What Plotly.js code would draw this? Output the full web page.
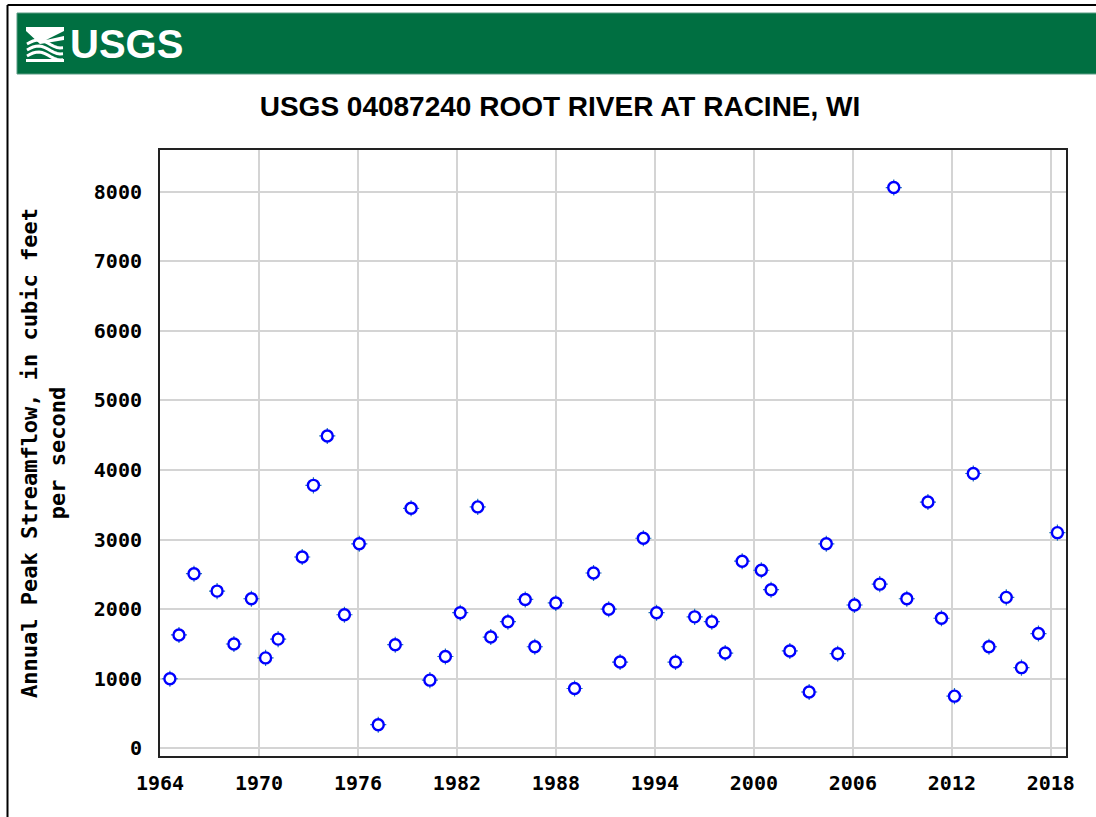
<!DOCTYPE html>
<html>
<head>
<meta charset="utf-8">
<script src="https://cdn.plot.ly/plotly-3.0.1.min.js"></script>
<style>
  html, body { margin: 0; padding: 0; background: #ffffff; }
  #chart { width: 1096px; height: 817px; }
</style>
</head>
<body>
<div id="chart"></div>
<script>
// ---- Data ----
const chartTitle = 'USGS 04087240 ROOT RIVER AT RACINE, WI';
const yAxisTitle = 'Annual Peak Streamflow, in cubic feet<br>per second';
const xTickYears = [1964, 1970, 1976, 1982, 1988, 1994, 2000, 2006, 2012, 2018];
const yTickValues = [0, 1000, 2000, 3000, 4000, 5000, 6000, 7000, 8000];

// Date of annual peak, as decimal year
const peakDateYear = [
  1964.60, 1965.15, 1966.06, 1967.46, 1968.48, 1969.54, 1970.40, 1971.16, 1972.62, 1973.30,
  1974.14, 1975.18, 1976.08, 1977.23, 1978.26, 1979.22, 1980.36, 1981.30, 1982.20, 1983.26,
  1984.05, 1985.09, 1986.14, 1986.72, 1987.99, 1989.13, 1990.28, 1991.20, 1991.89, 1993.30,
  1994.10, 1995.25, 1996.41, 1997.45, 1998.26, 1999.29, 2000.45, 2001.04, 2002.18, 2003.35,
  2004.39, 2005.08, 2006.10, 2007.63, 2008.48, 2009.27, 2010.55, 2011.37, 2012.16, 2013.30,
  2014.25, 2015.30, 2016.22, 2017.25, 2018.40
];
// Annual peak streamflow, cubic feet per second
const peakFlowCfs = [
  1000, 1630, 2510, 2260, 1500, 2150, 1300, 1570, 2750, 3780,
  4490, 1920, 2940, 340, 1490, 3450, 980, 1320, 1950, 3470,
  1600, 1820, 2140, 1460, 2090, 860, 2520, 2000, 1240, 3020,
  1950, 1240, 1890, 1820, 1370, 2690, 2560, 2280, 1400, 810,
  2940, 1360, 2060, 2360, 8060, 2150, 3540, 1870, 750, 3950,
  1460, 2170, 1160, 1650, 3100
];

// ---- Layout geometry (pixels) ----
const W = 1096, H = 817;
const L = 160, R = 1066, T = 150, B = 756;
const PW = R - L, PH = B - T;
const px = x => (x - L) / PW;      // pixel x -> paper x
const py = y => (B - y) / PH;      // pixel y -> paper y

const green = '#006f41';
const blue = '#0000ff';
const monoFont = 'DejaVu Sans Mono, Liberation Mono, monospace';
const titleFont = 'Liberation Sans, Arial, sans-serif';

// Wave-logo path built in pixel space then mapped to paper
function wavePath(y0, amp) {
  const pts = [];
  for (let i = 0; i <= 12; i++) {
    const x = 27 + i * (36 / 12);
    const y = y0 + amp * Math.sin(i / 12 * Math.PI * 1.6);
    pts.push((i === 0 ? 'M' : 'L') + px(x).toFixed(5) + ',' + py(y).toFixed(5));
  }
  return pts.join(' ');
}

const shapes = [
  // outer frame lines
  { type: 'line', xref: 'paper', yref: 'paper', x0: px(7.5), x1: px(W + 2), y0: py(5), y1: py(5),
    line: { color: '#000000', width: 2 } },
  { type: 'line', xref: 'paper', yref: 'paper', x0: px(7.5), x1: px(7.5), y0: py(5), y1: py(H + 2),
    line: { color: '#000000', width: 2 } },
  // green banner
  { type: 'rect', xref: 'paper', yref: 'paper', x0: px(17), x1: px(W + 2), y0: py(74), y1: py(13),
    fillcolor: green, line: { color: '#5a9c84', width: 1 }, layer: 'above' },
  // logo icon: top chevron band
  { type: 'path', xref: 'paper', yref: 'paper', layer: 'above',
    path: 'M' + px(26) + ',' + py(27) + ' L' + px(64) + ',' + py(27) + ' L' + px(64) + ',' + py(31) +
          ' L' + px(46) + ',' + py(40) + ' L' + px(64) + ',' + py(36) + ' L' + px(64) + ',' + py(40) +
          ' L' + px(40) + ',' + py(44) + ' L' + px(26) + ',' + py(31) + ' Z',
    fillcolor: '#ffffff', line: { width: 0 } },
  { type: 'path', xref: 'paper', yref: 'paper', layer: 'above', path: wavePath(44, -4),
    line: { color: '#ffffff', width: 3 } },
  { type: 'path', xref: 'paper', yref: 'paper', layer: 'above', path: wavePath(50, -4),
    line: { color: '#ffffff', width: 3 } },
  { type: 'path', xref: 'paper', yref: 'paper', layer: 'above', path: wavePath(56, -4),
    line: { color: '#ffffff', width: 3 } },
  { type: 'rect', xref: 'paper', yref: 'paper', layer: 'above',
    x0: px(26), x1: px(64), y0: py(62), y1: py(59), fillcolor: '#ffffff', line: { width: 0 } }
];

const annotations = [
  { text: '<b>USGS</b>', xref: 'paper', yref: 'paper', x: px(68), y: py(44), xanchor: 'left', yanchor: 'middle',
    showarrow: false, font: { family: titleFont, size: 40, color: '#ffffff' } }
];

const traces = [
  { // small tick nubs around each marker
    type: 'scatter', mode: 'markers', x: peakDateYear, y: peakFlowCfs, hoverinfo: 'skip',
    marker: { symbol: 'cross-thin-open', size: 11.5, line: { color: blue, width: 1.2 } }
  },
  {
    type: 'scatter', mode: 'markers', x: peakDateYear, y: peakFlowCfs, name: 'Annual peak',
    marker: { symbol: 'circle', size: 11, color: '#ffffff', line: { color: blue, width: 2.4 } }
  }
];

const layout = {
  width: W, height: H,
  margin: { l: L, r: W - R, t: T, b: H - B, pad: 0 },
  paper_bgcolor: '#ffffff', plot_bgcolor: '#ffffff',
  showlegend: false,
  title: {
    text: chartTitle, xref: 'container', yref: 'container',
    x: 560 / W, y: 1 - 106 / H, xanchor: 'center', yanchor: 'middle',
    font: { family: titleFont, size: 28, color: '#000000', weight: 'bold' }
  },
  xaxis: {
    range: [1964, 2018.92], tickmode: 'array', tickvals: xTickYears, ticktext: xTickYears.map(String),
    showgrid: true, gridcolor: '#d4d4d4', gridwidth: 2, zeroline: false,
    showline: true, mirror: true, linecolor: '#222222', linewidth: 2,
    ticks: '', ticklabelstandoff: 8,
    tickfont: { family: monoFont, size: 20, color: '#000000', weight: 'bold' }
  },
  yaxis: {
    range: [-110, 8600], tickmode: 'array', tickvals: yTickValues, ticktext: yTickValues.map(String),
    showgrid: true, gridcolor: '#d4d4d4', gridwidth: 2, zeroline: false,
    showline: true, mirror: true, linecolor: '#222222', linewidth: 2,
    ticks: '', ticklabelstandoff: 12,
    tickfont: { family: monoFont, size: 20, color: '#000000', weight: 'bold' },
    title: { text: yAxisTitle, standoff: 22,
      font: { family: monoFont, size: 22, color: '#000000', weight: 'bold' } }
  },
  shapes: shapes,
  annotations: annotations
};

Plotly.newPlot('chart', traces, layout, { staticPlot: true, displayModeBar: false });
</script>
</body>
</html>
